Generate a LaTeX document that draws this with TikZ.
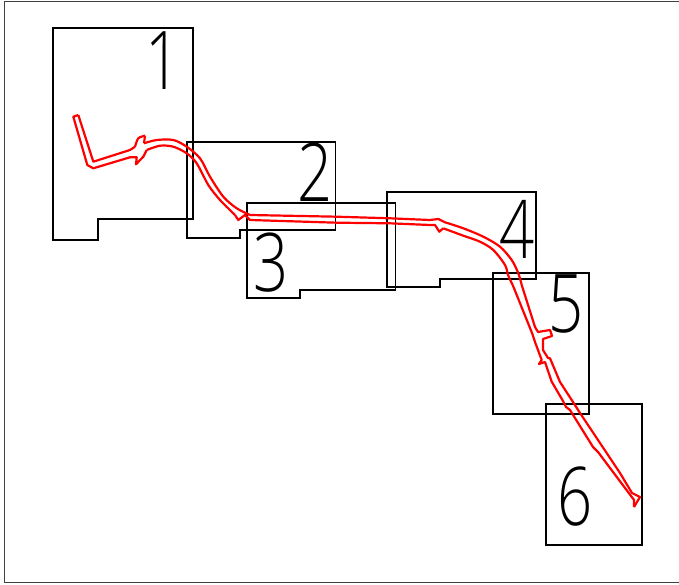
\documentclass[tikz,border=0pt]{standalone}
\usepackage{fontspec}
\newfontfamily\digitfont{Open Sans Light}
\tikzset{
  frameline/.style={draw=black!75,line width=0.8pt},
  sheet/.style={draw=black,line width=1.8pt,line join=miter},
  route/.style={draw=red,line width=2.2pt,line join=round},
  curve/.style={route,tension=0.5},
  digit/.style={inner sep=0pt,font=\digitfont\fontsize{81}{81}\selectfont,xscale=0.76,text=black}
}
\begin{document}
\begin{tikzpicture}[x=1pt,y=-1pt]
\useasboundingbox (0,0) rectangle (679,585);
\draw[frameline] (4,1) -- (679,1) (4,1) -- (4,582) -- (679,582);
\draw[sheet] (53,28) -- (193,28) -- (193,219) -- (98,219) -- (98,240) -- (53,240) -- cycle;
\draw[sheet] (187,142) -- (335.5,142) -- (335.5,230) -- (240,230) -- (240,238) -- (187,238) -- cycle;
\draw[sheet] (247,203) -- (395.5,203) -- (395.5,290) -- (300,290) -- (300,298) -- (247,298) -- cycle;
\draw[sheet] (387,192) -- (536,192) -- (536,279) -- (440,279) -- (440,287) -- (387,287) -- cycle;
\draw[sheet] (493,273) -- (589,273) -- (589,414) -- (493,414) -- cycle;
\draw[sheet] (546,404) -- (642,404) -- (642,545) -- (546,545) -- cycle;
\node[digit] (d1) at (163,61) {1};
\node[digit] (d2) at (315,172) {2};
\node[digit] (d3) at (271,263) {3};
\node[digit] (d4) at (517,229) {4};
\node[digit] (d5) at (566,304) {5};
\node[digit] (d6) at (575,497) {6};
% upper edge of the route
\draw[route] (78.3,115) -- (93.3,161.7) -- (130,150) -- (135,146.7);
\draw[curve] plot[smooth] coordinates {(135,146.7) (138.3,138.3) (145,135.7)};
\draw[route] (145,135.7) -- (144,143.3);
\draw[curve] plot[smooth] coordinates {(144,143.3) (156.7,140) (173.3,140) (186.7,146.7) (200,158.3) (210,176.7) (223.3,196.7) (236.7,208.3) (250,215)};
\draw[route] (250,215) -- (336.7,216.7) -- (390,218.3) -- (430,220) -- (438.3,219) -- (445,222.3);
\draw[curve] plot[smooth] coordinates {(445,222.3) (463.3,228.3) (483.3,236.7) (500,246.7) (511.7,260) (518.3,273.3) (521.7,285)};
\draw[route] (521.7,285) -- (535,327) -- (538,332) -- (550,330) -- (552,336) -- (543,339)
  -- (543,350) -- (548,358) -- (550,358.3) -- (560,382) -- (573,402) -- (580,413)
  -- (600,443) -- (620,473) -- (632,493) -- (640,497) -- (634,507);
% lower edge of the route
\draw[route] (78.3,115) -- (73.3,116.7) -- (87.3,165) -- (93.3,168.3) -- (130,157.3) -- (136.7,157.3) -- (136,164.3) -- (143.3,156.7) -- (146.7,150);
\draw[curve] plot[smooth] coordinates {(146.7,150) (160,145.7) (173.3,146.7) (186.7,153.3) (196.7,163.3) (208.3,185) (220,200) (235,215)};
\draw[route] (235,215) -- (238.3,220) -- (245,215) -- (250,220)
  -- (336.7,222.7) -- (390,223.3) -- (430,225) -- (435,225) -- (439.3,231.7) -- (443.3,228.3);
\draw[curve] plot[smooth] coordinates {(443.3,228.3) (463.3,235.7) (480,241.7) (493.3,250) (505,265) (508.3,275.7) (512.7,285)};
\draw[route] (512.7,285) -- (532,333) -- (535,342) -- (541.7,360) -- (539,364) -- (545,362)
  -- (551.7,381.7) -- (563,401) -- (566,407) -- (570,410) -- (593,447) -- (598,452) -- (634,500) -- (634,507);
\end{tikzpicture}
\end{document}
